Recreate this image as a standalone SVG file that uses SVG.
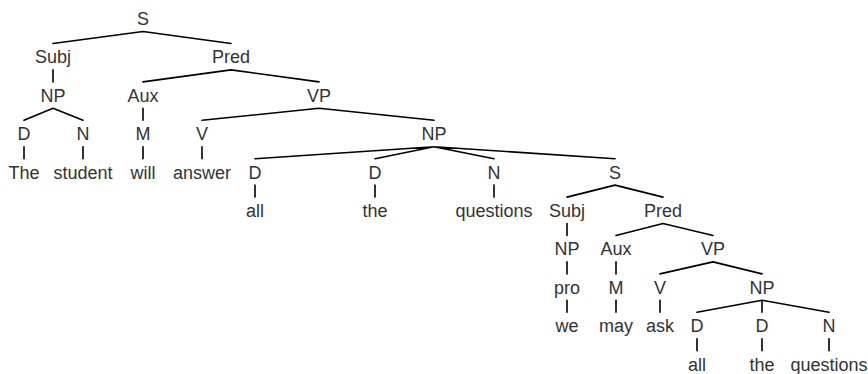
<svg xmlns="http://www.w3.org/2000/svg" width="868" height="374" viewBox="0 0 868 374">
  <style>
    text { font-family: "Liberation Sans", Arial, sans-serif; font-size: 18px; fill: #333; text-anchor: middle; }
    .edge { stroke: #000; stroke-width: 1.6; fill: none; stroke-linecap: round; }
  </style>
  <rect width="868" height="374" fill="#fff"/>

  <!-- branches: each runs from 6.5px below the parent baseline to 18.5px below it -->
  <g id="edges" class="edge">
    <path d="M143 31.5 L53 43.5 M143 31.5 L231 43.5"/>
    <path d="M53 69.9 L53 81.9 M231 69.9 L143 81.9 M231 69.9 L319 81.9"/>
    <path d="M53 108.3 L24 120.3 M53 108.3 L83 120.3 M143 108.3 L143 120.3 M319 108.3 L202 120.3 M319 108.3 L434 120.3"/>
    <path d="M24 146.7 L24 158.7 M83 146.7 L83 158.7 M143 146.7 L143 158.7 M202 146.7 L202 158.7 M434 146.7 L255 158.7 M434 146.7 L375 158.7 M434 146.7 L494 158.7 M434 146.7 L615 158.7"/>
    <path d="M255 185.1 L255 197.1 M375 185.1 L375 197.1 M494 185.1 L494 197.1 M615 185.1 L567 197.1 M615 185.1 L663 197.1"/>
    <path d="M567 223.5 L567 235.5 M663 223.5 L616 235.5 M663 223.5 L713 235.5"/>
    <path d="M567 261.9 L567 273.9 M616 261.9 L616 273.9 M713 261.9 L660 273.9 M713 261.9 L762 273.9"/>
    <path d="M567 300.3 L567 312.3 M616 300.3 L616 312.3 M660 300.3 L660 312.3 M762 300.3 L697 312.3 M762 300.3 L762 312.3 M762 300.3 L829 312.3"/>
    <path d="M697 338.7 L697 350.7 M762 338.7 L762 350.7 M829 338.7 L829 350.7"/>
  </g>

  <!-- main clause -->
  <g id="n-S"><text x="143" y="25">S</text></g>
  <g id="n-Subj"><text x="53" y="63.4">Subj</text></g>
  <g id="n-Pred"><text x="231" y="63.4">Pred</text></g>
  <g id="n-NP1"><text x="53" y="101.8">NP</text></g>
  <g id="n-Aux"><text x="143" y="101.8">Aux</text></g>
  <g id="n-VP"><text x="319" y="101.8">VP</text></g>
  <g id="n-D1"><text x="24" y="140.2">D</text></g>
  <g id="n-N1"><text x="83" y="140.2">N</text></g>
  <g id="n-M"><text x="143" y="140.2">M</text></g>
  <g id="n-V"><text x="202" y="140.2">V</text></g>
  <g id="n-NP2"><text x="434" y="140.2">NP</text></g>
  <g id="w-The"><text x="24" y="178.6">The</text></g>
  <g id="w-student"><text x="83" y="178.6">student</text></g>
  <g id="w-will"><text x="143" y="178.6">will</text></g>
  <g id="w-answer"><text x="202" y="178.6">answer</text></g>
  <g id="n-D2"><text x="255" y="178.6">D</text></g>
  <g id="n-D3"><text x="375" y="178.6">D</text></g>
  <g id="n-N2"><text x="494" y="178.6">N</text></g>
  <g id="n-S2"><text x="615" y="178.6">S</text></g>
  <g id="w-all"><text x="255" y="217">all</text></g>
  <g id="w-the"><text x="375" y="217">the</text></g>
  <g id="w-questions"><text x="494" y="217">questions</text></g>

  <!-- relative clause -->
  <g id="n-Subj2"><text x="567" y="217">Subj</text></g>
  <g id="n-Pred2"><text x="663" y="217">Pred</text></g>
  <g id="n-NP3"><text x="567" y="255.4">NP</text></g>
  <g id="n-Aux2"><text x="616" y="255.4">Aux</text></g>
  <g id="n-VP2"><text x="713" y="255.4">VP</text></g>
  <g id="n-pro"><text x="567" y="293.8">pro</text></g>
  <g id="n-M2"><text x="616" y="293.8">M</text></g>
  <g id="n-V2"><text x="660" y="293.8">V</text></g>
  <g id="n-NP4"><text x="762" y="293.8">NP</text></g>
  <g id="w-we"><text x="567" y="332.2">we</text></g>
  <g id="w-may"><text x="616" y="332.2">may</text></g>
  <g id="w-ask"><text x="660" y="332.2">ask</text></g>
  <g id="n-D4"><text x="697" y="332.2">D</text></g>
  <g id="n-D5"><text x="762" y="332.2">D</text></g>
  <g id="n-N3"><text x="829" y="332.2">N</text></g>
  <g id="w-all2"><text x="697" y="370.6">all</text></g>
  <g id="w-the2"><text x="762" y="370.6">the</text></g>
  <g id="w-questions2"><text x="829" y="370.6">questions</text></g>
</svg>
